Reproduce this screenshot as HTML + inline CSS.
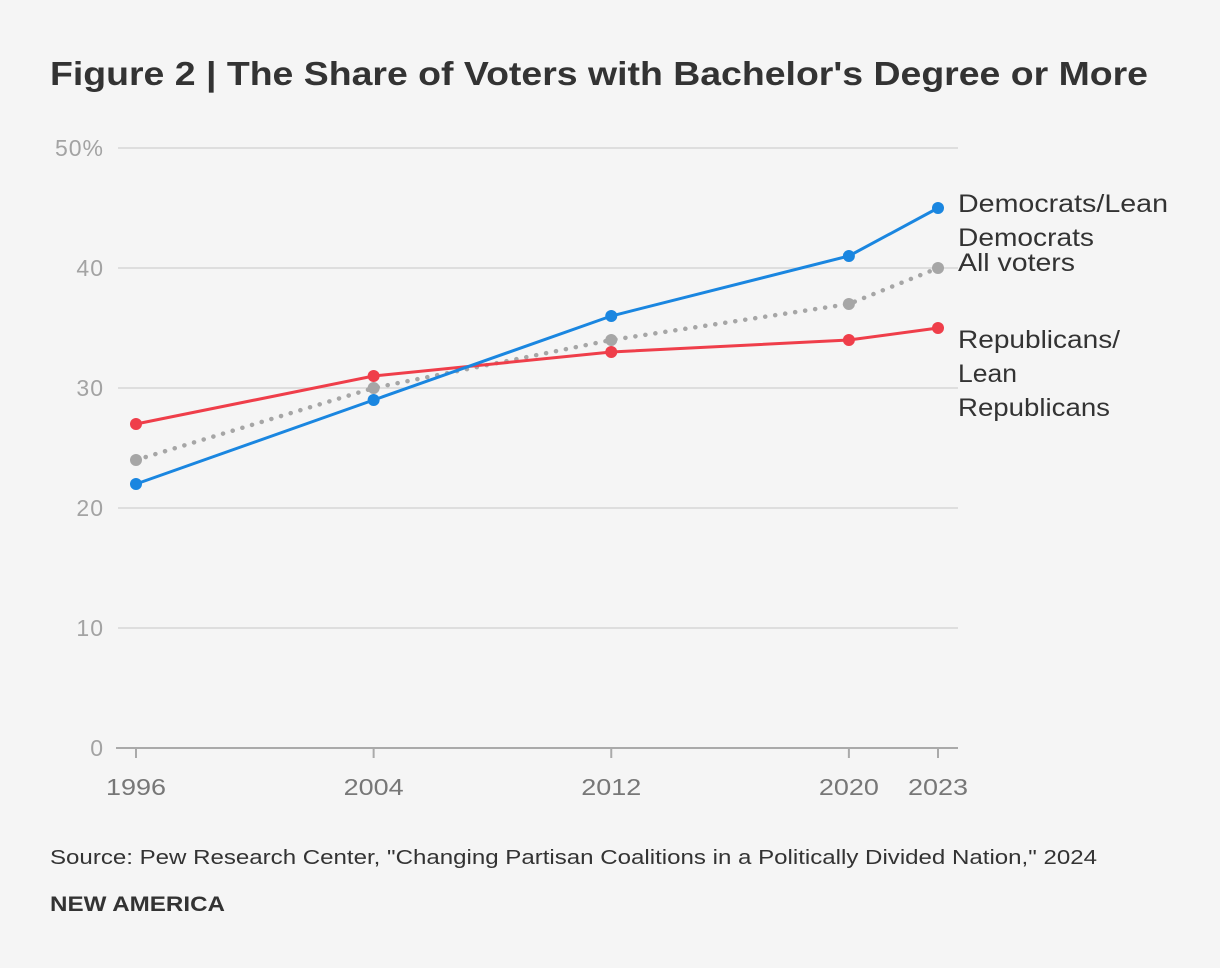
<!DOCTYPE html>
<html><head><meta charset="utf-8"><style>
body{margin:0;background:#f5f5f5;font-family:"Liberation Sans",sans-serif;}
svg{display:block}
</style></head><body>
<svg id="chart" width="1220" height="968">
<rect width="1220" height="968" fill="#f5f5f5"/>
<text x="50" y="85" font-size="33" font-weight="bold" fill="#333" textLength="1098" lengthAdjust="spacingAndGlyphs">Figure 2 | The Share of Voters with Bachelor's Degree or More</text>
<g id="grid"></g><g id="series"></g>
<g id="labels" font-size="25" fill="#333">
<text x="958" y="212"><tspan x="958" textLength="210" lengthAdjust="spacingAndGlyphs">Democrats/Lean</tspan><tspan x="958" dy="34" textLength="136" lengthAdjust="spacingAndGlyphs">Democrats</tspan></text>
<text x="958" y="271" textLength="117" lengthAdjust="spacingAndGlyphs">All voters</text>
<text x="958" y="348"><tspan x="958" textLength="162" lengthAdjust="spacingAndGlyphs">Republicans/</tspan><tspan x="958" dy="34" textLength="59" lengthAdjust="spacingAndGlyphs">Lean</tspan><tspan x="958" dy="34" textLength="152" lengthAdjust="spacingAndGlyphs">Republicans</tspan></text>
</g>
<text x="50" y="864" font-size="20" fill="#333" textLength="1047" lengthAdjust="spacingAndGlyphs">Source: Pew Research Center, "Changing Partisan Coalitions in a Politically Divided Nation," 2024</text>
<text x="50" y="911" font-size="21" font-weight="bold" fill="#333" textLength="175" lengthAdjust="spacingAndGlyphs">NEW AMERICA</text>
</svg>
<script>
const years=[1996,2004,2012,2020,2023];
const dem=[22,29,36,41,45];
const all=[24,30,34,37,40];
const rep=[27,31,33,34,35];
const yTicks=[0,10,20,30,40,50];
const yTickLabels=['0','10','20','30','40','50%'];
const NS='http://www.w3.org/2000/svg';
const x=v=>136+(v-1996)*(938-136)/27;
const y=v=>748-v*12;
function mk(tag,attrs,parent){const e=document.createElementNS(NS,tag);for(const k in attrs)e.setAttribute(k,attrs[k]);parent.appendChild(e);return e;}
const g=document.getElementById('grid');
yTicks.forEach((t,i)=>{
 const l=mk('line',{x1:t===0?116:118,x2:958,y1:y(t),y2:y(t),stroke:t===0?'#aaa':'#d6d6d6','stroke-width':t===0?2:1.5},g);
 
 
 const tx=mk('text',{x:104,y:y(t)+8,'text-anchor':'end','font-size':23,fill:'#a3a3a3','letter-spacing':'1'},g);
 tx.textContent=yTickLabels[i];
 
 
});
years.forEach(yr=>{
 const tk=mk('line',{x1:x(yr),x2:x(yr),y1:748,y2:758,stroke:'#aaa','stroke-width':2},g);
 
 
 const tx=mk('text',{x:x(yr),y:795,'text-anchor':'middle','font-size':23,fill:'#777',textLength:60,lengthAdjust:'spacingAndGlyphs'},g);
 tx.textContent=yr;
 
 
});
const s=document.getElementById('series');
function draw(vals,color,name,dash){
 const pts=years.map((yr,i)=>x(yr)+','+y(vals[i])).join(' ');
 const a={points:pts,fill:'none',stroke:color,'stroke-width':dash?4.5:3};
 if(dash){a['stroke-dasharray']='0.1 10';a['stroke-linecap']='round';}
 const p=mk('polyline',a,s);
 
 
 years.forEach((yr,i)=>{
  const c=mk('circle',{cx:x(yr),cy:y(vals[i]),r:6,fill:color},s);
  
  
 });
}
draw(all,'#a6a6a6','all-voters',true);
draw(rep,'#ef3e4a','republicans',false);
draw(dem,'#1a86e0','democrats',false);
</script>
</body></html>
